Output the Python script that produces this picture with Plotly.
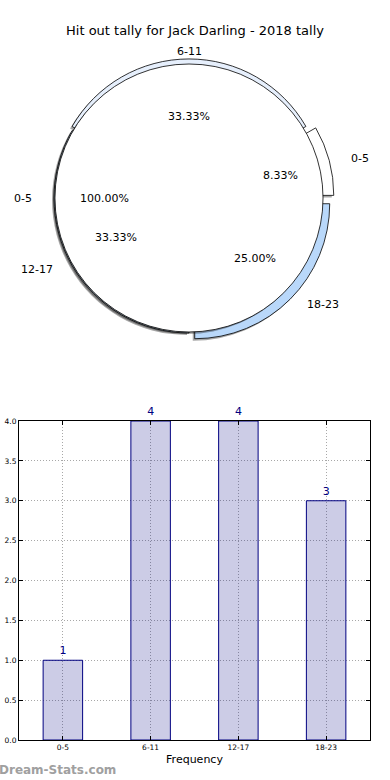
import math
import plotly.graph_objects as go

# ---- data ----
categories = ["0-5", "6-11", "12-17", "18-23"]
counts = [1, 4, 4, 3]
inner_labels = ["0-5"]
inner_values = [1]
title_text = "Hit out tally for Jack Darling - 2018 tally"
x_axis_title = "Frequency"
y_ticks = [0.0, 0.5, 1.0, 1.5, 2.0, 2.5, 3.0, 3.5, 4.0]

# ---- style ----
W, H = 390, 780
slice_colors = ["#ffffff", "#e6effc", "#cfe2f7", "#b9d8fa"]
explode = [0.075, 0.03, 0.0, 0.06]
FONT = "DejaVu Sans"

# pie geometry in pixels
cx, cy = 189, 198
r_outer = 135
r_inner = 134
text_rx, text_ry = 141, 130
shadow_dx, shadow_dy = -2, 2


def dom(cxp, cyp, half):
    return dict(x=[(cxp - half) / W, (cxp + half) / W],
                y=[1 - (cyp + half) / H, 1 - (cyp - half) / H])


total = sum(counts)
rotation = 90 - 360 * counts[0] / total  # matplotlib startangle=0, counterclockwise
max_pull = max(explode)

fig = go.Figure()

common_outer = dict(labels=categories, values=counts, sort=False,
                    direction="counterclockwise", rotation=rotation,
                    pull=explode, textinfo="none", hoverinfo="skip",
                    showlegend=False)

# shadow of outer slices
fig.add_trace(go.Pie(**common_outer,
                     domain=dom(cx + shadow_dx, cy + shadow_dy, r_outer * (1 + max_pull)),
                     marker=dict(colors=["rgba(0,0,0,0.35)"] * len(counts),
                                 line=dict(width=0))))
# outer slices
fig.add_trace(go.Pie(**common_outer,
                     domain=dom(cx, cy, r_outer * (1 + max_pull)),
                     marker=dict(colors=slice_colors,
                                 line=dict(color="black", width=0.8))))
# shadow of inner disc
fig.add_trace(go.Pie(labels=inner_labels, values=inner_values, sort=False,
                     textinfo="none", hoverinfo="skip", showlegend=False,
                     domain=dom(cx + shadow_dx, cy + shadow_dy, r_inner),
                     marker=dict(colors=["rgba(0,0,0,0.35)"], line=dict(width=0))))
# inner disc
fig.add_trace(go.Pie(labels=inner_labels, values=inner_values, sort=False,
                     textinfo="none", hoverinfo="skip", showlegend=False,
                     domain=dom(cx, cy, r_inner),
                     marker=dict(colors=["#ffffff"], line=dict(color="black", width=0.8))))

annotations = []


def pie_text(label, frac_mid, pct, e):
    th = math.radians(360 * frac_mid)
    c, s = math.cos(th), math.sin(th)
    lx = cx + (1.1 + e) * text_rx * c
    ly = cy - (1.1 + e) * text_ry * s
    xa = "left" if c > 0.1 else ("right" if c < -0.1 else "center")
    annotations.append(dict(x=lx / W, y=1 - ly / H, xref="paper", yref="paper",
                            text=label, showarrow=False, xanchor=xa, yanchor="middle",
                            font=dict(family=FONT, size=11, color="black")))
    px = cx + (0.6 + e) * text_rx * c
    py = cy - (0.6 + e) * text_ry * s
    annotations.append(dict(x=px / W, y=1 - py / H, xref="paper", yref="paper",
                            text="%.2f%%" % pct, showarrow=False, xanchor="center",
                            yanchor="middle",
                            font=dict(family=FONT, size=11, color="black")))


cum = 0
for lab, v, e in zip(categories, counts, explode):
    pie_text(lab, (cum + v / 2) / total, 100 * v / total, e)
    cum += v

itot = sum(inner_values)
cum = 0
for lab, v in zip(inner_labels, inner_values):
    pie_text(lab, (cum + v / 2) / itot, 100 * v / itot, 0)
    cum += v

# ---- bar chart ----
fig.add_trace(go.Bar(x=categories, y=counts, width=0.45,
                     marker=dict(color="rgba(0,0,128,0.2)",
                                 line=dict(color="#000080", width=1)),
                     text=[str(c) for c in counts], textposition="outside",
                     textfont=dict(family=FONT, size=11, color="#000080"),
                     cliponaxis=False, hoverinfo="skip", showlegend=False))

axis_common = dict(showline=True, linecolor="black", linewidth=1, mirror="ticks",
                   ticks="inside", ticklen=4, tickcolor="black",
                   showgrid=True, gridcolor="#a8a8a8", griddash="1px,2px", gridwidth=1,
                   zeroline=False, automargin=False,
                   tickfont=dict(family=FONT, size=7.5, color="black"))

fig.update_layout(
    width=W, height=H,
    margin=dict(l=0, r=0, t=0, b=0),
    paper_bgcolor="white", plot_bgcolor="white",
    title=dict(text=title_text, x=0.5, xanchor="center", y=1 - 30 / H,
               yanchor="middle", font=dict(family=FONT, size=13, color="black"),
               automargin=False),
    xaxis=dict(domain=[19 / W, 370 / W], range=[-0.5, 3.5],
               title=dict(text=x_axis_title, standoff=4,
                          font=dict(family=FONT, size=11, color="black")),
               **axis_common),
    yaxis=dict(domain=[1 - 740 / H, 1 - 421 / H], range=[0, 4],
               tickvals=y_ticks, tickformat=".1f", **axis_common),
    annotations=annotations + [
        dict(x=-3 / W, y=1 - 770 / H, xref="paper", yref="paper",
             text="<b>Dream-Stats.com</b>", showarrow=False,
             xanchor="left", yanchor="middle",
             font=dict(family=FONT, size=12, color="#a0a0a0"))
    ],
)

fig.write_html("out.html",
               config={"displayModeBar": False},
               post_script="document.body.style.margin='0';"
                           "document.body.style.overflow='hidden';")
